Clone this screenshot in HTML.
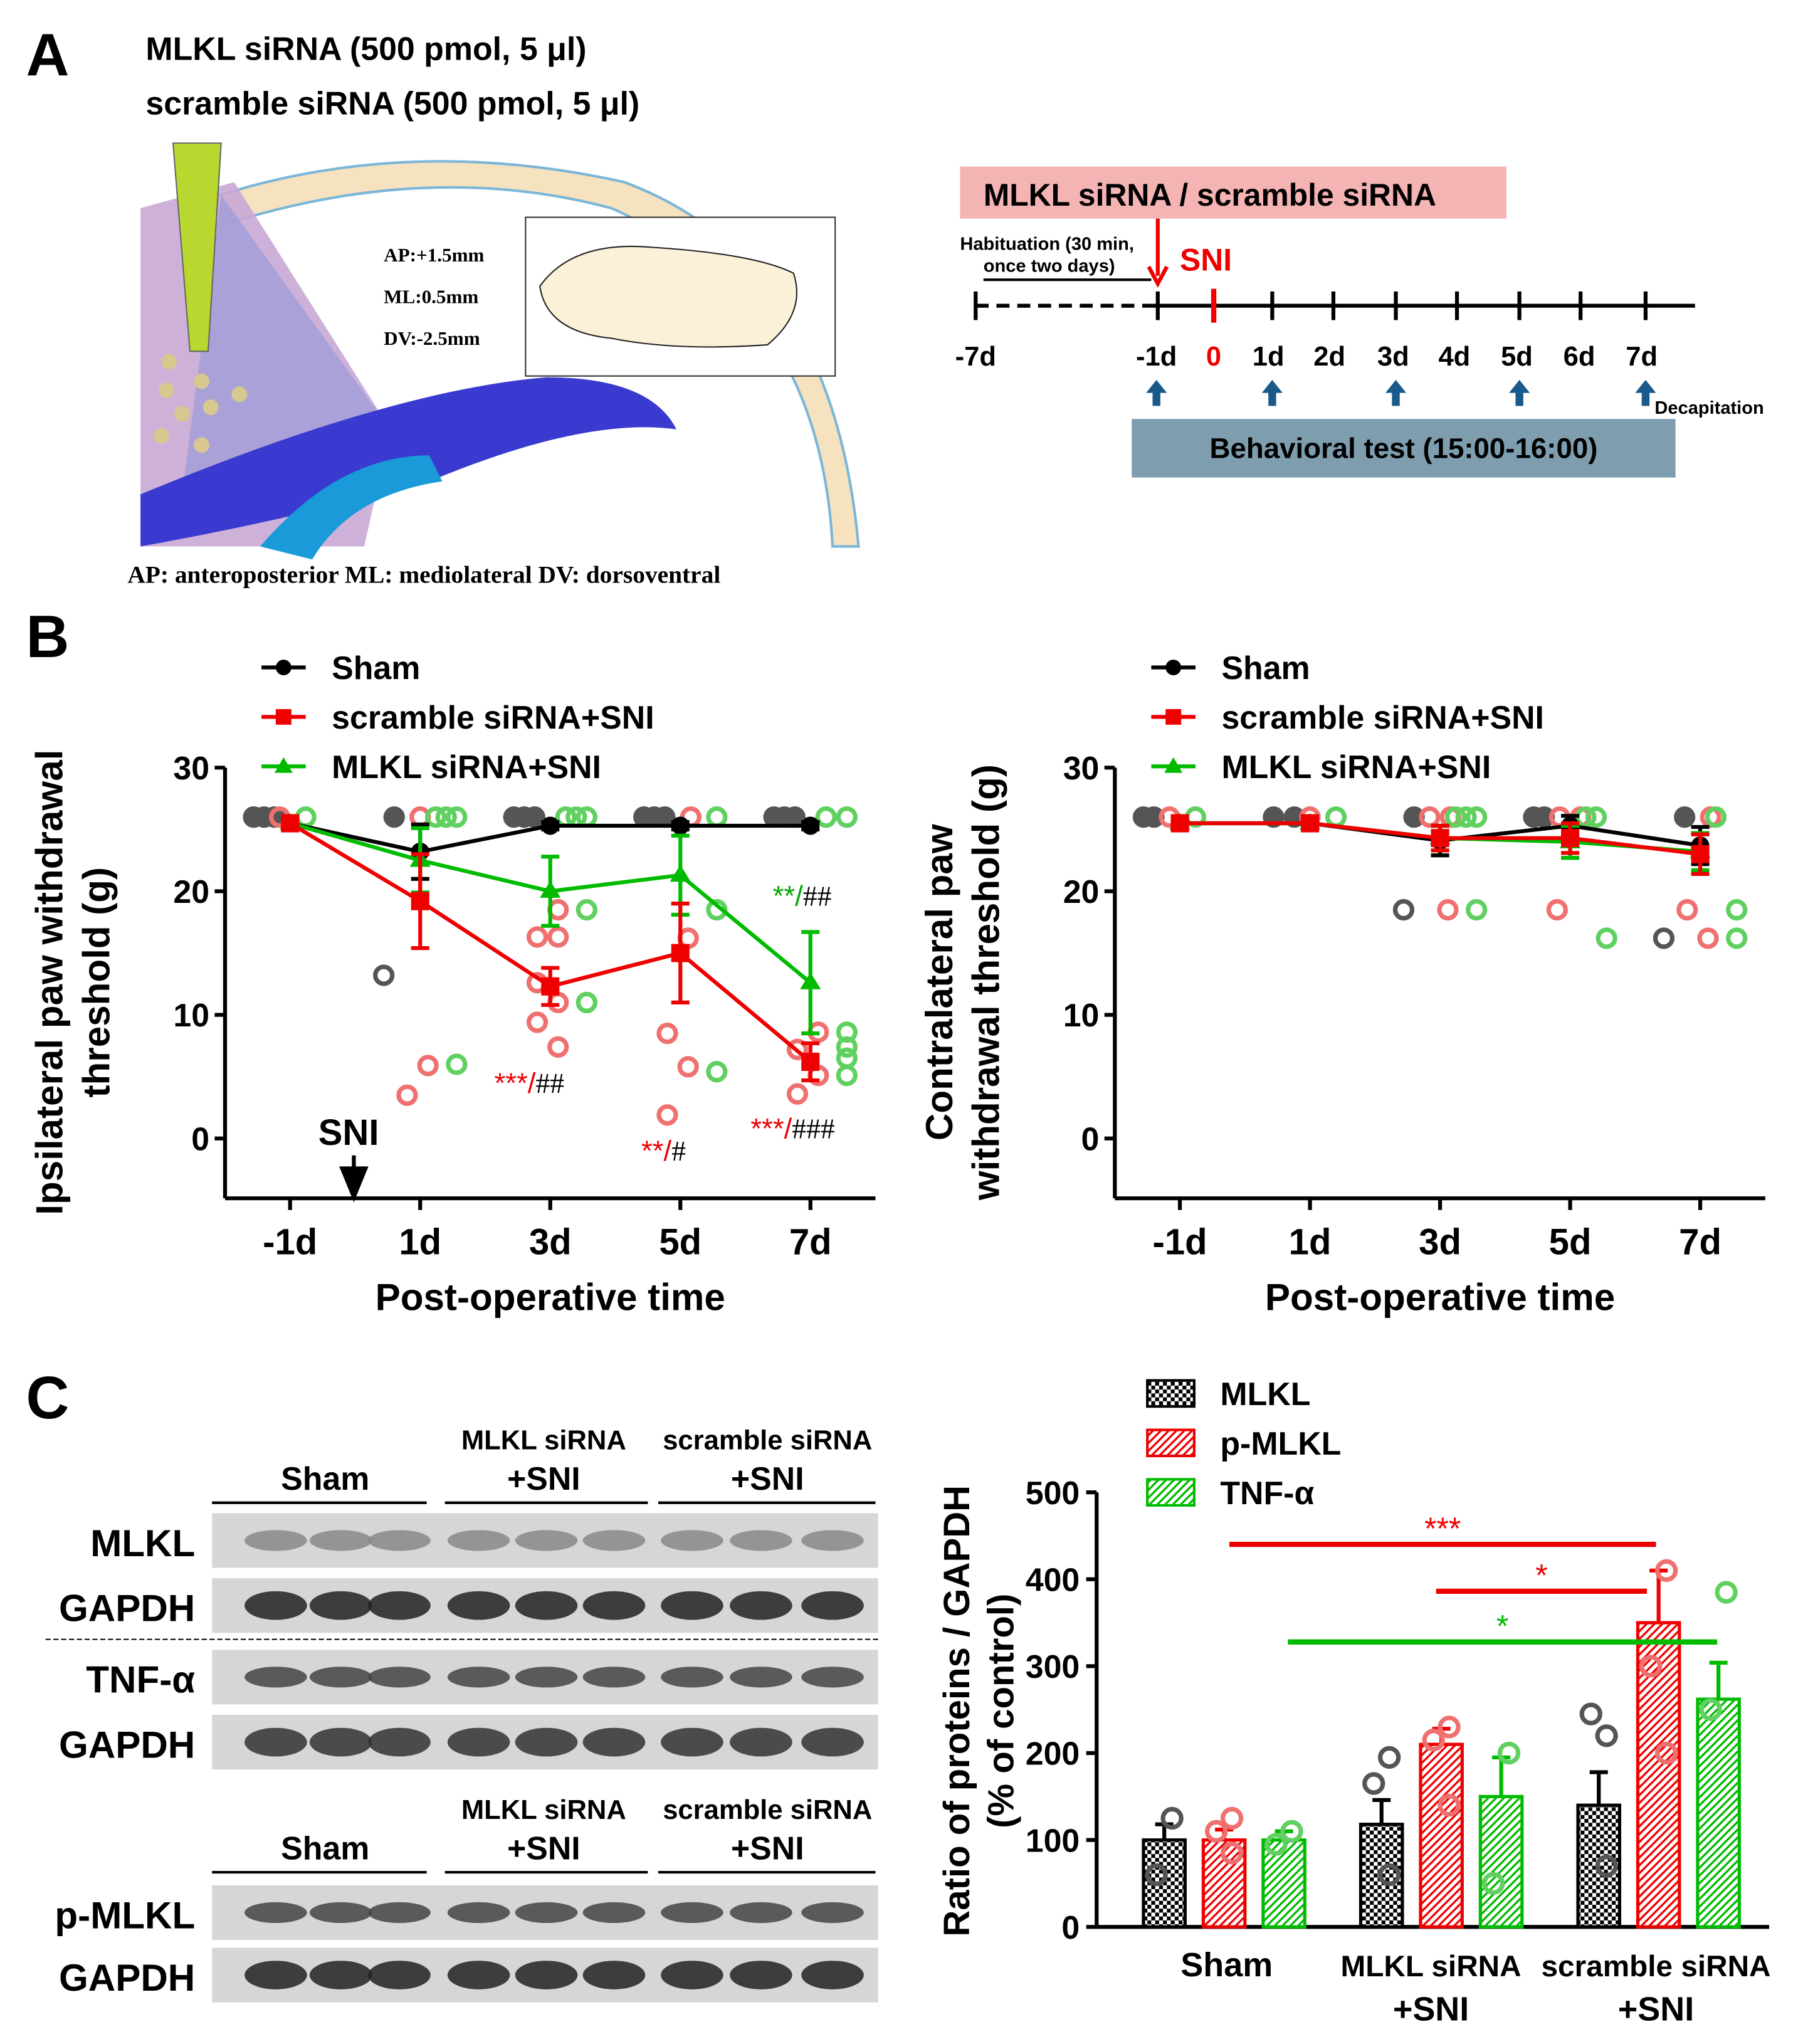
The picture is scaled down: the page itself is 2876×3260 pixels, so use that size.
<!DOCTYPE html>
<html><head><meta charset="utf-8"><style>
html,body{margin:0;padding:0;background:#fff}
svg{display:block;font-family:"Liberation Sans",Arial,sans-serif}
.b{font-weight:bold}
</style></head><body>
<svg id="fig" width="2876" height="3260" viewBox="0 0 1386 1571" preserveAspectRatio="none" xmlns="http://www.w3.org/2000/svg">
<!-- Panel A -->
<g>
<text x="20" y="58" class="b" font-size="46">A</text>
<text x="112" y="46" class="b" font-size="25">MLKL siRNA (500 pmol, 5 μl)</text>
<text x="112" y="88" class="b" font-size="25">scramble siRNA (500 pmol, 5 μl)</text>
<g>
<path d="M140 160 Q300 100 480 140 Q640 200 660 420 L640 420 Q630 230 470 160 Q320 120 150 180 Z" fill="#f7e2c0" stroke="#7bb6d8" stroke-width="2"/>
<path d="M108 160 L180 140 L300 330 L280 420 L108 420 Z" fill="#c8a8d4" opacity="0.9"/>
<path d="M170 150 L300 330 L140 380 Z" fill="#9a9ad8" opacity="0.7"/>
<path d="M108 380 Q300 300 420 290 Q500 290 520 330 Q450 320 330 370 Q220 400 108 420 Z" fill="#3a3ad0"/>
<path d="M200 420 Q260 350 330 350 L340 370 Q270 380 240 430 Z" fill="#1a9ad8"/>
<path d="M133 110 L170 110 L160 270 L146 270 Z" fill="#b8d830" stroke="#666"/>
<circle cx="130" cy="278" r="6" fill="#d8c890"/><circle cx="155" cy="293" r="6" fill="#d8c890"/><circle cx="128" cy="300" r="6" fill="#d8c890"/><circle cx="184" cy="303" r="6" fill="#d8c890"/><circle cx="140" cy="318" r="6" fill="#d8c890"/><circle cx="162" cy="313" r="6" fill="#d8c890"/><circle cx="124" cy="335" r="6" fill="#d8c890"/><circle cx="155" cy="342" r="6" fill="#d8c890"/>
<rect x="404" y="167" width="238" height="122" fill="#fff" stroke="#333"/>
<path d="M415 220 Q440 185 500 190 Q580 195 610 210 Q620 240 590 265 Q520 270 470 260 Q420 255 415 220 Z" fill="#fbf0d8" stroke="#222"/>
<text font-family="Liberation Serif" font-size="15" class="b" x="295" y="201">AP:+1.5mm</text>
<text font-family="Liberation Serif" font-size="15" class="b" x="295" y="233">ML:0.5mm</text>
<text font-family="Liberation Serif" font-size="15" class="b" x="295" y="265">DV:-2.5mm</text>
</g>
<text x="98" y="448" font-family="Liberation Serif" class="b" font-size="19">AP: anteroposterior  ML: mediolateral  DV: dorsoventral</text>
<g>
<rect x="738" y="128" width="420" height="40" fill="#f5b4b4"/>
<text x="756" y="158" class="b" font-size="24">MLKL siRNA / scramble siRNA</text>
<text x="738" y="192" class="b" font-size="14">Habituation (30 min,</text>
<text x="756" y="209" class="b" font-size="14">once two days)</text>
<line x1="756" y1="215" x2="885" y2="215" stroke="#000" stroke-width="2"/>
<line x1="890" y1="168" x2="890" y2="212" stroke="#e00" stroke-width="3"/>
<path d="M883 205 L890 218 L897 205" fill="none" stroke="#e00" stroke-width="3"/>
<text x="907" y="208" class="b" font-size="24" fill="#e00">SNI</text>
<line x1="750" y1="235" x2="880" y2="235" stroke="#000" stroke-width="3" stroke-dasharray="10 6"/>
<line x1="880" y1="235" x2="1303" y2="235" stroke="#000" stroke-width="3"/>
<g stroke="#000" stroke-width="3"><line x1="750" y1="224" x2="750" y2="246"/><line x1="890" y1="224" x2="890" y2="246"/><line x1="978" y1="224" x2="978" y2="246"/><line x1="1025" y1="224" x2="1025" y2="246"/><line x1="1073" y1="224" x2="1073" y2="246"/><line x1="1120" y1="224" x2="1120" y2="246"/><line x1="1168" y1="224" x2="1168" y2="246"/><line x1="1215" y1="224" x2="1215" y2="246"/><line x1="1265" y1="224" x2="1265" y2="246"/></g>
<line x1="933" y1="222" x2="933" y2="248" stroke="#e00" stroke-width="4"/>
<g class="b" font-size="21" text-anchor="middle"><text x="750" y="281">-7d</text><text x="889" y="281">-1d</text><text x="933" y="281" fill="#e00">0</text><text x="975" y="281">1d</text><text x="1022" y="281">2d</text><text x="1071" y="281">3d</text><text x="1118" y="281">4d</text><text x="1166" y="281">5d</text><text x="1214" y="281">6d</text><text x="1262" y="281">7d</text></g>
<g fill="#1a5a8a"><path d="M889 292 l-8 10 h5 v10 h6 v-10 h5z"/><path d="M978 292 l-8 10 h5 v10 h6 v-10 h5z"/><path d="M1073 292 l-8 10 h5 v10 h6 v-10 h5z"/><path d="M1168 292 l-8 10 h5 v10 h6 v-10 h5z"/><path d="M1265 292 l-8 10 h5 v10 h6 v-10 h5z"/></g>
<text x="1272" y="318" class="b" font-size="14">Decapitation</text>
<rect x="870" y="322" width="418" height="45" fill="#7e9eb0"/>
<text x="1079" y="352" class="b" font-size="22" text-anchor="middle">Behavioral test (15:00-16:00)</text>
</g>
</g>
<text x="20" y="505" class="b" font-size="46">B</text>
<text x="20" y="1090" class="b" font-size="46">C</text>
<g id="lineCharts"></g>
<g id="blots"></g>
<g id="barChart"></g>
</svg>
<script>
const NS="http://www.w3.org/2000/svg";
function mk(p,tag,attrs,txt){const e=document.createElementNS(NS,tag);for(const k in attrs)e.setAttribute(k,attrs[k]);if(txt!==undefined)e.textContent=txt;p.appendChild(e);return e;}

// ---- Panel B data ----
const timeLabels=["-1d","1d","3d","5d","7d"];
const yTicksB=[0,10,20,30];
const ipsiSham=[25.5,23.2,25.3,25.3,25.3];
const ipsiShamErr=[0.3,2.2,0.3,0.3,0.3];
const ipsiScr=[25.5,19.2,12.3,15.0,6.2];
const ipsiScrErr=[0.3,3.8,1.5,4.0,1.5];
const ipsiMlkl=[25.5,22.5,20.0,21.3,12.6];
const ipsiMlklErr=[0.3,2.6,2.8,3.2,4.1];
const contSham=[25.5,25.5,24.1,25.3,23.7];
const contShamErr=[0.3,0.3,1.2,0.8,1.5];
const contScr=[25.5,25.5,24.3,24.3,23.0];
const contScrErr=[0.3,0.3,1.0,1.2,1.6];
const contMlkl=[25.5,25.5,24.3,24.0,23.2];
const contMlklErr=[0.3,0.3,1.0,1.3,1.5];
// individual points: [timeIndex, value]
const ipsiShamPts=[[0,26],[0,26],[0,26],[0,26],[1,26],[1,13.2],[2,26],[2,26],[2,26],[3,26],[3,26],[3,26],[4,26],[4,26],[4,26]];
const ipsiScrPts=[[0,26],[1,26],[1,5.9],[1,3.5],[2,18.5],[2,16.3],[2,16.3],[2,12.6],[2,11],[2,9.4],[2,7.4],[3,26],[3,16.2],[3,8.5],[3,5.8],[3,1.9],[4,8.6],[4,7.2],[4,5.1],[4,3.6]];
const ipsiMlklPts=[[0,26],[1,26],[1,26],[1,26],[1,6],[2,26],[2,26],[2,26],[2,18.5],[2,11],[2,11],[3,26],[3,18.5],[3,5.4],[4,26],[4,26],[4,8.6],[4,7.4],[4,6.5],[4,5.1]];
const contShamPts=[[0,26],[0,26],[1,26],[1,26],[2,26],[2,18.5],[3,26],[3,26],[4,26],[4,16.2]];
const contScrPts=[[0,26],[1,26],[2,26],[2,26],[2,18.5],[3,26],[3,26],[3,18.5],[4,26],[4,18.5],[4,16.2]];
const contMlklPts=[[0,26],[1,26],[2,26],[2,26],[2,26],[2,18.5],[3,26],[3,26],[3,16.2],[4,26],[4,18.5],[4,16.2]];

const LC=document.getElementById('lineCharts');
function lineChart(ox,yTitle,yTitle2,S,Se,R,Re,G,Ge,Sp,Rp,Gp,name){
  const g=mk(LC,'g',{});
  
  
  const x=i=>ox+50+i*100, y=v=>875-v*9.5;
  // legend
  const leg=[["Sham","#000","c"],["scramble siRNA+SNI","#e00","s"],["MLKL siRNA+SNI","#0b0","t"]];
  leg.forEach((l,i)=>{const ly=513+i*38;const lg=mk(g,'g',{});
    
    
    mk(lg,'line',{x1:ox+28,y1:ly,x2:ox+62,y2:ly,stroke:l[1],'stroke-width':3});
    if(l[2]=='c')mk(lg,'circle',{cx:ox+45,cy:ly,r:6,fill:l[1]});
    if(l[2]=='s')mk(lg,'rect',{x:ox+39,y:ly-6,width:12,height:12,fill:l[1]});
    if(l[2]=='t')mk(lg,'path',{d:`M${ox+45} ${ly-7} l7 12 h-14z`,fill:l[1]});
    mk(lg,'text',{x:ox+82,y:ly+9,'font-size':25,'font-weight':'bold'},l[0]);});
  // axes
  mk(g,'line',{x1:ox,y1:590,x2:ox,y2:921,stroke:'#000','stroke-width':3});
  mk(g,'line',{x1:ox,y1:921,x2:ox+500,y2:921,stroke:'#000','stroke-width':3});
  yTicksB.forEach(t=>{mk(g,'line',{x1:ox-8,y1:y(t),x2:ox,y2:y(t),stroke:'#000','stroke-width':3});
    mk(g,'text',{x:ox-12,y:y(t)+9,'font-size':25,'font-weight':'bold','text-anchor':'end'},t);});
  timeLabels.forEach((t,i)=>{mk(g,'line',{x1:x(i),y1:921,x2:x(i),y2:930,stroke:'#000','stroke-width':3});
    mk(g,'text',{x:x(i),y:964,'font-size':28,'font-weight':'bold','text-anchor':'middle'},t);});
  mk(g,'text',{x:ox+250,y:1007,'font-size':29,'font-weight':'bold','text-anchor':'middle'},'Post-operative time');
  const yt=mk(g,'text',{transform:`translate(${ox-115},755) rotate(-90)`,'font-size':29,'font-weight':'bold','text-anchor':'middle'});
  mk(yt,'tspan',{x:0,dy:yTitle2?-10:0},yTitle);
  if(yTitle2)mk(yt,'tspan',{x:0,dy:36},yTitle2);
  // points
  const pts=[[Sp,'#555'],[Rp,'#f07070'],[Gp,'#60d060']], off=[-20,0,20];
  pts.forEach((p,k)=>{p[0].forEach((d,j)=>{const c=mk(g,'circle',{cx:x(d[0])+(d[1]>=25.9?(off[k]+(j%3-1)*8):(k==0?-28:(k==1?(j%2?-10:6):28))),cy:y(d[1]),r:6.5,fill:d[1]>=25.9&&k==0?'#555':'none',stroke:p[1],'stroke-width':3.5});
    
    });});
  // series
  [[S,Se,'#000','c'],[G,Ge,'#0b0','t'],[R,Re,'#e00','s']].forEach(s=>{
    mk(g,'polyline',{points:s[0].map((v,i)=>x(i)+','+y(v)).join(' '),fill:'none',stroke:s[2],'stroke-width':3});
    s[0].forEach((v,i)=>{
      mk(g,'line',{x1:x(i),y1:y(v-s[1][i]),x2:x(i),y2:y(v+s[1][i]),stroke:s[2],'stroke-width':3});
      [v-s[1][i],v+s[1][i]].forEach(e=>mk(g,'line',{x1:x(i)-7,y1:y(e),x2:x(i)+7,y2:y(e),stroke:s[2],'stroke-width':3}));
      let m;
      if(s[3]=='c')m=mk(g,'circle',{cx:x(i),cy:y(v),r:7,fill:s[2]});
      if(s[3]=='s')m=mk(g,'rect',{x:x(i)-7,y:y(v)-7,width:14,height:14,fill:s[2]});
      if(s[3]=='t')m=mk(g,'path',{d:`M${x(i)} ${y(v)-8} l8 13 h-16z`,fill:s[2]});
      
      
    });
  });
  return g;
}
const gl=lineChart(173,'Ipsilateral paw withdrawal','threshold (g)',ipsiSham,ipsiShamErr,ipsiScr,ipsiScrErr,ipsiMlkl,ipsiMlklErr,ipsiShamPts,ipsiScrPts,ipsiMlklPts,'ipsilateral-chart');
lineChart(857,'Contralateral paw','withdrawal threshold (g)',contSham,contShamErr,contScr,contScrErr,contMlkl,contMlklErr,contShamPts,contScrPts,contMlklPts,'contralateral-chart');
// annotations
function ann(x,y,a,b,col){const t=mk(gl,'text',{x:x,y:y,'font-size':22});mk(t,'tspan',{fill:col},a);mk(t,'tspan',{fill:'#000','font-family':'Liberation Serif'},b);}
ann(380,840,'***/','##','#e00');ann(493,892,'**/','#','#e00');ann(577,875,'***/','###','#e00');ann(594,696,'**/','##','#0a0');
mk(gl,'text',{x:268,y:880,'font-size':28,'font-weight':'bold','text-anchor':'middle'},'SNI');
mk(gl,'path',{d:'M272 888 v20 M263 898 l9 22 l9 -22z',stroke:'#000','stroke-width':3,fill:'#000'});

// ---- Blots ----
const BL=document.getElementById('blots');
const blotRows=[["MLKL",1163,'#888'],["GAPDH",1213,'#222'],["TNF-α",1268,'#444'],["GAPDH",1318,'#333'],["p-MLKL",1449,'#444'],["GAPDH",1497,'#222']];
const laneX=[212,262,307,368,420,472,532,585,640];
function hdr(y){[["Sham",250,1],["MLKL siRNA",418,0],["scramble siRNA",590,0]].forEach(h=>{
  if(h[2])mk(BL,'text',{x:h[1],y:y+16,'font-size':25,'font-weight':'bold','text-anchor':'middle'},h[0]);
  else{mk(BL,'text',{x:h[1],y:y-15,'font-size':21,'font-weight':'bold','text-anchor':'middle'},h[0]);mk(BL,'text',{x:h[1],y:y+16,'font-size':25,'font-weight':'bold','text-anchor':'middle'},'+SNI');}});
  [[163,328],[342,498],[506,673]].forEach(l=>mk(BL,'line',{x1:l[0],y1:y+26,x2:l[1],y2:y+26,stroke:'#000','stroke-width':2}));}
hdr(1129);hdr(1413);
blotRows.forEach((r,k)=>{const gg=mk(BL,'g',{});
  
  
  mk(gg,'rect',{x:163,y:r[1],width:512,height:42,fill:'#d6d6d6'});
  laneX.forEach(lx=>mk(gg,'ellipse',{cx:lx,cy:r[1]+21,rx:24,ry:k%2?11:8,fill:r[2],opacity:0.85}));
  mk(gg,'text',{x:150,y:r[1]+33,'font-size':29,'font-weight':'bold','text-anchor':'end'},r[0]);});
mk(BL,'line',{x1:35,y1:1260,x2:675,y2:1260,stroke:'#000','stroke-width':1,'stroke-dasharray':'4 2'});

// ---- Bar chart ----
const groups=["Sham","MLKL siRNA","scramble siRNA"];
const yTicksC=[0,100,200,300,400,500];
const mlklVals=[100,118,140];
const mlklErr=[18,28,38];
const pmlklVals=[100,210,350];
const pmlklErr=[12,18,60];
const tnfVals=[100,150,262];
const tnfErr=[10,45,42];
const mlklPts=[[125,60],[195,165,60],[220,245,70]];
const pmlklPts=[[125,110,85],[230,215,140],[410,300,200]];
const tnfPts=[[110,95],[200,50],[385,250]];
const BC=document.getElementById('barChart');
const defs=mk(BC,'defs',{});
[['pk','#000',0],['pr','#e00',1],['pg','#0b0',1]].forEach(p=>{
  const pt=mk(defs,'pattern',{id:p[0],width:6,height:6,patternUnits:'userSpaceOnUse'});
  mk(pt,'rect',{width:6,height:6,fill:'#fff'});
  if(p[2])mk(pt,'path',{d:'M0 6 L6 0 M-1 1 L1 -1 M5 7 L7 5',stroke:p[1],'stroke-width':1.6});
  else{mk(pt,'rect',{width:3,height:3,fill:'#000'});mk(pt,'rect',{x:3,y:3,width:3,height:3,fill:'#000'});}});
const by=v=>1481-v*0.668, gx=[895,1062,1229], off3=[0,46,92], bw=32;
mk(BC,'line',{x1:843,y1:1147,x2:843,y2:1481,stroke:'#000','stroke-width':3});
mk(BC,'line',{x1:843,y1:1481,x2:1360,y2:1481,stroke:'#000','stroke-width':3});
yTicksC.forEach(t=>{mk(BC,'line',{x1:835,y1:by(t),x2:843,y2:by(t),stroke:'#000','stroke-width':3});
  mk(BC,'text',{x:830,y:by(t)+9,'font-size':25,'font-weight':'bold','text-anchor':'end'},t);});
const yt=mk(BC,'text',{transform:'translate(745,1315) rotate(-90)','font-size':28,'font-weight':'bold','text-anchor':'middle'});
mk(yt,'tspan',{x:0,dy:0},'Ratio of proteins / GAPDH');mk(yt,'tspan',{x:0,dy:34},'(% of control)');
[[943,"Sham",null],[1100,"MLKL siRNA","+SNI"],[1273,"scramble siRNA","+SNI"]].forEach(l=>{
  mk(BC,'text',{x:l[0],y:1519,'font-size':l[2]?23:26,'font-weight':'bold','text-anchor':'middle'},l[1]);
  if(l[2])mk(BC,'text',{x:l[0],y:1553,'font-size':26,'font-weight':'bold','text-anchor':'middle'},l[2]);});
const series=[[mlklVals,mlklErr,mlklPts,'#000','pk','#555'],[pmlklVals,pmlklErr,pmlklPts,'#e00','pr','#f07070'],[tnfVals,tnfErr,tnfPts,'#0b0','pg','#60d060']];
series.forEach((s,k)=>{s[0].forEach((v,i)=>{const cx=gx[i]+off3[k];
  mk(BC,'line',{x1:cx,y1:by(v),x2:cx,y2:by(v+s[1][i]),stroke:s[3],'stroke-width':3});
  mk(BC,'line',{x1:cx-7,y1:by(v+s[1][i]),x2:cx+7,y2:by(v+s[1][i]),stroke:s[3],'stroke-width':3});
  const r=mk(BC,'rect',{x:cx-bw/2,y:by(v),width:bw,height:by(0)-by(v),fill:`url(#${s[4]})`,stroke:s[3],'stroke-width':2.5});
  
  
  s[2][i].forEach((p,j)=>mk(BC,'circle',{cx:cx+(j%2?-6:6),cy:by(p),r:7,fill:'none',stroke:s[5],'stroke-width':3.5}));});});
// legend
[["MLKL",'pk','#000'],["p-MLKL",'pr','#e00'],["TNF-α",'pg','#0b0']].forEach((l,i)=>{const ly=1070+i*38;
  const lg=mk(BC,'g',{});
  
  
  mk(lg,'rect',{x:882,y:ly-9,width:36,height:20,fill:`url(#${l[1]})`,stroke:l[2],'stroke-width':2});
  mk(lg,'text',{x:938,y:ly+10,'font-size':25,'font-weight':'bold'},l[0]);});
// significance
[[945,1273,1187,'#e00','***'],[1104,1266,1223,'#e00','*'],[990,1320,1262,'#0b0','*']].forEach(s=>{
  mk(BC,'line',{x1:s[0],y1:s[2],x2:s[1],y2:s[2],stroke:s[3],'stroke-width':4});
  mk(BC,'text',{x:(s[0]+s[1])/2,y:s[2]-4,'font-size':24,fill:s[3],'text-anchor':'middle'},s[4]);});
</script>
</body></html>
